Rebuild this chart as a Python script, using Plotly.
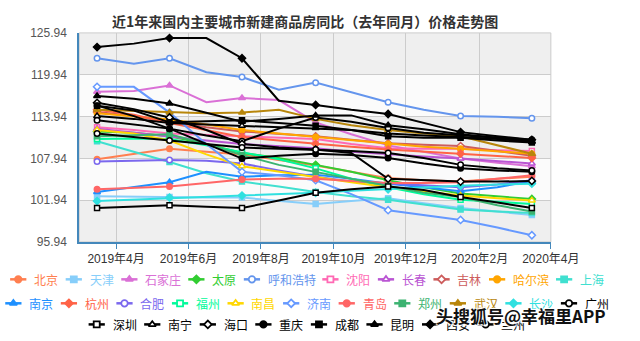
import plotly.graph_objects as go

# ---------------- data ----------------
months = ["2019-03-16", "2019-04-16", "2019-05-16", "2019-06-16", "2019-07-16",
          "2019-08-16", "2019-09-16", "2019-10-16", "2019-11-16", "2019-12-16",
          "2020-01-16", "2020-02-16", "2020-03-16"]

x_tick_vals = ["2019-04-01", "2019-06-01", "2019-08-01", "2019-10-01",
               "2019-12-01", "2020-02-01", "2020-04-01"]
x_tick_text = ["2019年4月", "2019年6月", "2019年8月", "2019年10月",
               "2019年12月", "2020年2月", "2020年4月"]
y_tick_vals = [95.94, 101.94, 107.94, 113.94, 119.94, 125.94]
y_tick_text = ["95.94", "101.94", "107.94", "113.94", "119.94", "125.94"]

beijing   = [107.8, 108.6, 109.3, 108.9, 108.5, 107.7, 106.9, 106.0, 105.1, 104.8, 104.6, 105.0, 105.3]
tianjin   = [102.5, 102.4, 102.4, 102.3, 102.3, 101.9, 101.4, 101.8, 102.2, 101.5, 100.8, 100.3, 99.8]
shijiazhuang = [117.5, 117.6, 118.4, 116.0, 116.6, 116.3, 113.1, 111.4, 109.8, 108.9, 107.9, 107.3, 106.8]
taiyuan   = [111.8, 111.6, 111.1, 110.0, 108.7, 108.0, 107.0, 106.0, 104.8, 103.8, 102.9, 102.5, 102.1]
huhehaote = [122.3, 121.5, 122.3, 120.3, 119.6, 117.8, 118.8, 117.4, 116.0, 114.9, 114.0, 113.9, 113.7]
shenyang  = [112.4, 112.0, 111.5, 111.3, 111.1, 110.9, 110.7, 110.0, 109.4, 109.3, 109.3, 109.1, 109.0]
changchun = [112.2, 111.6, 111.0, 110.5, 110.0, 109.7, 109.4, 108.9, 108.5, 108.2, 107.9, 107.5, 107.2]
jilin     = [114.6, 114.0, 113.2, 112.4, 111.8, 111.4, 111.1, 110.6, 110.1, 109.9, 109.7, 109.0, 108.3]
haerbin   = [114.4, 113.9, 113.5, 112.8, 112.0, 111.5, 111.0, 110.5, 110.0, 109.6, 109.3, 108.9, 108.6]
shanghai  = [110.4, 108.9, 107.4, 105.8, 104.6, 103.9, 103.1, 102.5, 102.0, 101.3, 100.6, 100.3, 100.1]
nanjing   = [103.1, 103.8, 104.5, 106.0, 105.3, 105.5, 105.6, 105.0, 104.3, 103.8, 103.2, 103.8, 104.7]
hangzhou  = [114.9, 114.2, 113.0, 112.0, 111.0, 110.5, 110.0, 109.6, 109.2, 108.9, 108.6, 108.3, 108.0]
hefei     = [107.5, 107.6, 107.7, 107.6, 107.2, 106.2, 105.3, 104.6, 104.3, 104.0, 103.8, 104.2, 104.8]
fuzhou    = [110.7, 110.8, 110.7, 109.8, 108.8, 107.8, 106.5, 105.0, 103.8, 102.8, 102.0, 101.7, 101.4]
nanchang  = [112.0, 111.5, 110.5, 108.5, 106.8, 106.0, 105.2, 104.5, 103.8, 103.2, 102.6, 102.2, 101.9]
jinan     = [118.2, 118.2, 114.5, 110.0, 106.0, 105.5, 104.8, 102.8, 100.5, 99.8, 99.1, 98.0, 96.9]
qingdao   = [103.5, 103.7, 103.9, 104.4, 104.9, 105.0, 105.0, 104.7, 104.4, 104.4, 104.5, 105.0, 105.5]
zhengzhou = [111.1, 111.3, 111.4, 110.0, 108.4, 107.0, 106.0, 105.0, 104.0, 103.0, 102.4, 101.2, 100.3]
wuhan     = [114.9, 114.7, 114.5, 114.4, 114.5, 114.9, 113.6, 112.7, 112.0, 111.5, 111.1, 109.8, 108.6]
changsha  = [101.8, 102.0, 102.3, 102.4, 102.6, 102.8, 103.0, 103.3, 103.5, 103.8, 104.0, 104.2, 104.3]
guangzhou = [113.4, 112.8, 112.2, 111.2, 110.4, 112.2, 113.8, 113.2, 112.3, 111.6, 111.2, 110.9, 110.6]
shenzhen  = [100.8, 101.0, 101.2, 101.0, 100.8, 101.9, 103.0, 103.5, 103.9, 103.4, 102.4, 101.6, 100.8]
nanning   = [114.0, 113.6, 113.0, 112.8, 112.6, 112.4, 112.3, 112.0, 111.5, 111.2, 111.0, 110.7, 110.3]
haikou    = [115.9, 115.0, 113.8, 112.0, 110.0, 109.5, 109.2, 108.7, 105.0, 104.8, 104.6, 104.6, 104.7]
chongqing = [115.5, 114.0, 112.2, 110.0, 107.9, 108.3, 108.6, 108.4, 108.0, 107.2, 106.5, 106.2, 106.0]
chengdu   = [115.5, 114.8, 113.1, 113.2, 113.4, 113.0, 112.6, 112.0, 111.1, 110.9, 110.9, 110.5, 110.2]
kunming   = [116.9, 116.5, 115.8, 114.5, 113.2, 113.6, 114.1, 114.1, 112.7, 112.1, 111.4, 110.9, 110.4]
xian      = [123.9, 124.4, 125.2, 125.2, 122.3, 116.2, 115.6, 114.9, 114.3, 113.0, 111.7, 111.1, 110.6]
lanzhou   = [111.5, 111.0, 110.5, 110.0, 109.5, 109.3, 109.2, 109.0, 108.7, 108.0, 107.0, 106.5, 106.2]

city_names = ["北京", "天津", "石家庄", "太原", "呼和浩特", "沈阳", "长春", "吉林", "哈尔滨", "上海",
              "南京", "杭州", "合肥", "福州", "南昌", "济南", "青岛", "郑州", "武汉", "长沙", "广州",
              "深圳", "南宁", "海口", "重庆", "成都", "昆明", "西安", "兰州"]
city_values = [beijing, tianjin, shijiazhuang, taiyuan, huhehaote, shenyang, changchun, jilin,
               haerbin, shanghai, nanjing, hangzhou, hefei, fuzhou, nanchang, jinan, qingdao,
               zhengzhou, wuhan, changsha, guangzhou, shenzhen, nanning, haikou, chongqing,
               chengdu, kunming, xian, lanzhou]

# ---------------- style ----------------
palette = ["#ff7f50", "#87cefa", "#da70d6", "#32cd32", "#6495ed", "#ff69b4", "#ba55d3",
           "#cd5c5c", "#ffa500", "#40e0d0", "#1e90ff", "#ff6347", "#7b68ee", "#00fa9a",
           "#ffd700", "#6699ff", "#ff6666", "#3cb371", "#b8860b", "#30e0e0"]
colors = palette + ["#000000"] * 9
sym_cycle = [("circle", True), ("square", True), ("triangle-up", True), ("diamond", True),
             ("circle", False), ("square", False), ("triangle-up", False), ("diamond", False)]
sym_size = {"circle": 5.5, "square": 5, "triangle-up": 6, "diamond": 5.5}
leg_size = {"circle": 6.5, "square": 6, "triangle-up": 6.5, "diamond": 6}

W, H = 640, 341
PL, PR, PT, PB = 83, 577, 27, 245
FONT = "Liberation Sans, Noto Sans CJK SC, sans-serif"

fig = go.Figure()

for i, (name, vals) in enumerate(zip(city_names, city_values)):
    c = colors[i]
    sym, filled = sym_cycle[i % 8]
    fig.add_trace(go.Scatter(x=months, y=vals, mode="lines", line=dict(color=c, width=2),
                             showlegend=False, hoverinfo="skip", xaxis="x", yaxis="y"))
    fig.add_trace(go.Scatter(x=months[::2], y=vals[::2], mode="markers",
                             marker=dict(symbol=sym, size=sym_size[sym],
                                         color=c if filled else "#ffffff",
                                         line=dict(color=c, width=1.5)),
                             showlegend=False, hoverinfo="skip", xaxis="x", yaxis="y"))

# ---------------- custom legend (pixel overlay axes) ----------------
legend_rows = [city_names[0:10], city_names[10:21], city_names[21:29]]
row_y = [284, 309, 331]
SYM_W, SYM_GAP, ITEM_GAP, CH = 17, 6, 11.2, 12
annotations = []
for r, row in enumerate(legend_rows):
    widths = [SYM_W + SYM_GAP + CH * len(n) for n in row]
    total = sum(widths) + ITEM_GAP * (len(row) - 1)
    x = 320 - total / 2
    for n, w in zip(row, widths):
        i = city_names.index(n)
        c = colors[i]
        sym, filled = sym_cycle[i % 8]
        yy = row_y[r]
        fig.add_trace(go.Scatter(x=[x, x + SYM_W], y=[yy, yy], mode="lines",
                                 line=dict(color=c, width=2.5), showlegend=False,
                                 hoverinfo="skip", xaxis="x2", yaxis="y2"))
        fig.add_trace(go.Scatter(x=[x + SYM_W / 2], y=[yy], mode="markers",
                                 marker=dict(symbol=sym, size=leg_size[sym],
                                             color=c if filled else "#ffffff",
                                             line=dict(color=c, width=1.8)),
                                 showlegend=False, hoverinfo="skip", xaxis="x2", yaxis="y2"))
        annotations.append(dict(x=x + SYM_W + SYM_GAP, y=yy, xref="x2", yref="y2", text=n,
                                showarrow=False, xanchor="left", yanchor="middle",
                                font=dict(size=12, color=c, family="Noto Sans CJK SC")))
        x += w + ITEM_GAP

annotations.append(dict(x=319 / W, y=1 - 15 / H, xref="paper", yref="paper",
                        text="近1年来国内主要城市新建商品房同比（去年同月）价格走势图",
                        showarrow=False, xanchor="center", yanchor="middle",
                        font=dict(size=14, color="#333333", family="Noto Sans CJK SC",
                                  weight="bold")))
annotations.append(dict(x=546 / W, y=1 - 322 / H, xref="paper", yref="paper",
                        text="头搜狐号@幸福里APP", showarrow=False, xanchor="center",
                        yanchor="middle",
                        font=dict(size=17, color="#111111", family="Noto Sans CJK SC",
                                  weight="bold",
                                  shadow="1px 1px 1px #fff, -1px -1px 1px #fff, "
                                         "1px -1px 1px #fff, -1px 1px 1px #fff")))

# background bands and border
shapes = []
band_edges = y_tick_vals
for k in range(len(band_edges) - 1):
    shapes.append(dict(type="rect", xref="x domain", yref="y", x0=0, x1=1,
                       y0=band_edges[k], y1=band_edges[k + 1], layer="below",
                       line=dict(width=0),
                       fillcolor="#efefef" if k % 2 == 0 else "#fbfbfb"))
shapes.append(dict(type="rect", xref="x domain", yref="y domain", x0=0, x1=1, y0=0, y1=1,
                   layer="below", line=dict(color="#cccccc", width=1),
                   fillcolor="rgba(0,0,0,0)"))

fig.update_layout(
    width=W, height=H, margin=dict(l=0, r=0, t=0, b=0),
    paper_bgcolor="#ffffff", plot_bgcolor="rgba(0,0,0,0)",
    font=dict(family=FONT, size=12, color="#333333"),
    showlegend=False,
    xaxis=dict(type="date", domain=[PL / W, PR / W], range=["2019-03-01", "2020-04-01"],
               tickvals=x_tick_vals, ticktext=x_tick_text, showgrid=True,
               gridcolor="#cccccc", gridwidth=1, showline=True, linecolor="#4488bb",
               linewidth=2, ticks="outside", ticklen=5, tickcolor="#4488bb", tickwidth=1,
               tickfont=dict(size=12, color="#333333"), zeroline=False, fixedrange=True,
               anchor="y"),
    yaxis=dict(domain=[1 - PB / H, 1 - PT / H], range=[95.94, 125.94],
               tickvals=y_tick_vals, ticktext=y_tick_text, showgrid=True,
               gridcolor="#cccccc", gridwidth=1, showline=True, linecolor="#4488bb",
               linewidth=2, ticks="", ticklabelstandoff=8,
               tickfont=dict(size=12, color="#555555"), zeroline=False, fixedrange=True,
               anchor="x"),
    xaxis2=dict(domain=[0, 1], range=[0, W], visible=False, fixedrange=True, anchor="y2"),
    yaxis2=dict(domain=[0, 1], range=[H, 0], visible=False, fixedrange=True, anchor="x2"),
    annotations=annotations, shapes=shapes,
)

fig.write_html("out.html")
